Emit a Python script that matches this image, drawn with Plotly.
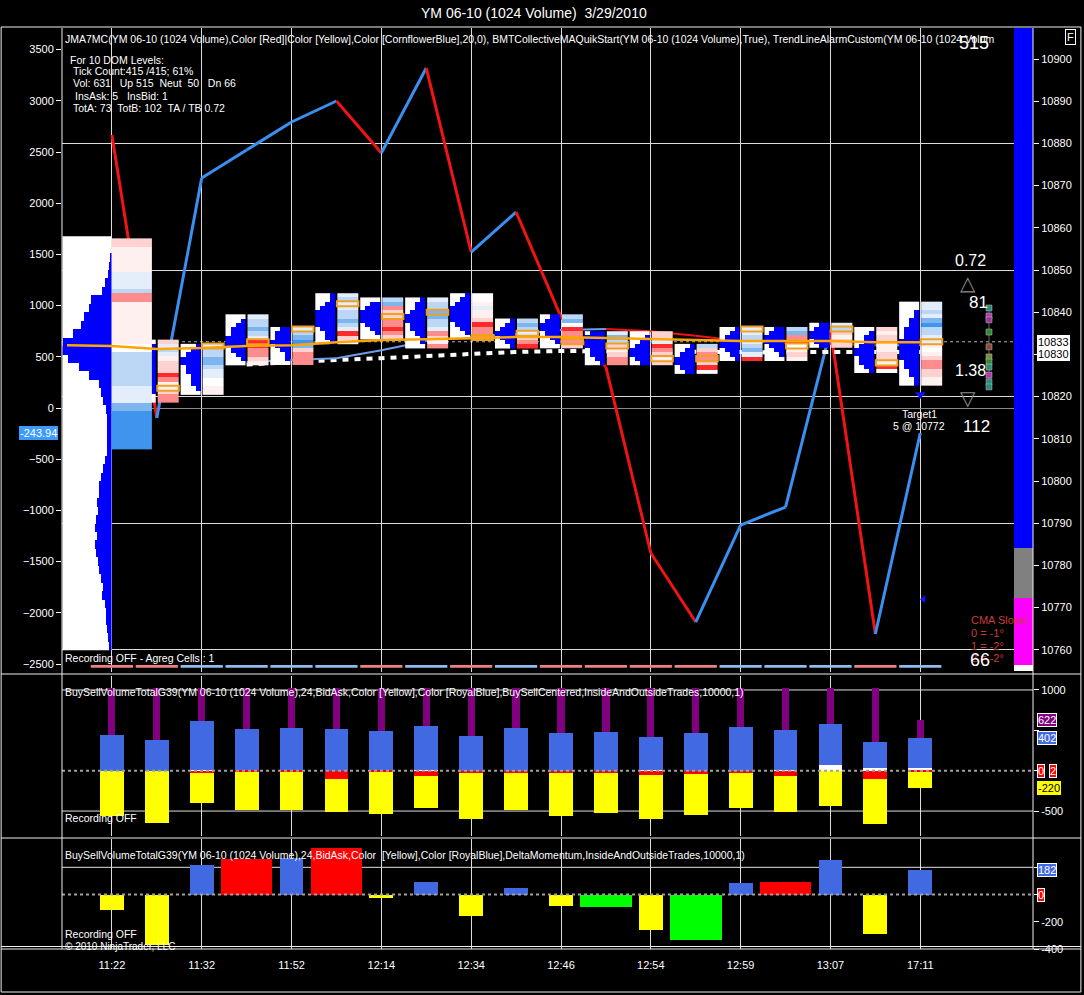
import numpy as np
import plotly.graph_objects as go

FONT = "Liberation Sans, Arial, sans-serif"

# ---------------- shared x (bar index) ----------------
bars = list(range(19))
label_bars = [0, 2, 4, 6, 8, 10, 12, 14, 16, 18]
time_labels = ["11:22", "11:32", "11:52", "12:14", "12:34", "12:46", "12:54", "12:59", "13:07", "17:11"]

# ---------------- main panel: JMA7MC oscillator (left scale) ----------------
jma = [2666, -98, 2246, 2520, 2793, 2998, 2490, 3320, 1523, 1914, 889, 400,
       -1416, -2090, -1143, -967, 762, -2207, -243.94]
jma_last = -243.94

# ---------------- main panel: price series (right scale) ----------------
orange_bars = [-1] + bars
orange_ma = [10832.2, 10832.0, 10831.3, 10831.5, 10832.0, 10832.2, 10832.9, 10833.4, 10833.6, 10833.9,
             10834.1, 10834.1, 10833.9, 10833.6, 10833.4, 10833.2, 10833.2, 10833.2, 10832.9, 10832.9]
cma_bars = list(range(3, 19))
cma = [10828.2, 10828.7, 10829.1, 10831.0, 10833.2, 10834.1, 10834.8, 10835.8, 10836.0, 10835.5,
       10834.4, 10833.2, 10832.7, 10832.5, 10832.2, 10832.2]
dotted_bars = list(range(3, 19))
dotted_ma = [10827.6, 10828.2, 10828.7, 10829.1, 10829.6, 10830.1, 10830.6, 10830.8, 10830.7, 10830.6,
             10830.6, 10830.5, 10830.5, 10830.6, 10830.6, 10830.6]
last_price = 10833
bid_price = 10830
target_price = 10772
signal_price = 10820.5
target_bar = 18

# per-bar footprint blocks (bar 0 is the session profile)
blk_high = [None, 10833, 10832, 10839, 10836, 10844, 10843, 10843, 10844, 10838, 10839, 10835, 10835,
            10832, 10836, 10836, 10837, 10836, 10842]
blk_low = [None, 10819, 10821, 10828, 10828, 10833, 10834, 10832, 10834, 10832, 10832, 10828, 10828,
           10826, 10829, 10829, 10832, 10826, 10823]
blk_codes = [None, "256512224311233", "566776550011", "566765443321", "567872333", "565566765421",
             "6732233432", "566776653213", "00151124333", "6765234", "67043332", "57621233", "22543212",
             "6233240", "55656754", "67340121", "562122", "21221122140", "55657866551012332211"]
blk_profile = [None, "012223443321100", "123443322210", "012334443210", "233432110", "112344443221",
               "0234443210", "122344332110", "12344443210", "1234321", "23443210", "34443321", "01234432",
               "1234432", "12344321", "23443210", "234432", "01223443321", "00112233344444332211"]
blk_poc = [None, 10822, 10832, 10833, 10836, 10842, 10839, 10840, 10834, 10835, 10833, 10832, 10829,
           10829, 10836, 10832, 10836, 10828, 10833]

sess_levels = list(range(10857, 10760, -2))
sess_vol = [0, 0, 1, 2, 3, 6, 9, 20, 22, 27, 30, 38, 48, 49, 43, 32, 22, 12, 10, 8,
            5, 4, 4, 4, 4, 4, 6, 8, 10, 12, 12, 14, 13, 15, 16, 14, 16, 15, 13, 12,
            10, 8, 9, 6, 5, 5, 4, 3, 2]
sess_col_high, sess_col_low = 10857, 10808
sess_col_codes = "22" "111111" "5555" "6" "33" "1111111111" "00" "66666666" "5555" "77" "888888888"

bar_dir = "RRBBBBRBRBRRRRBBBRB"

dom_prices = [10841.0, 10839.1, 10838.2, 10835.3, 10831.8, 10829.4, 10828.2, 10827.0, 10825.1, 10823.5, 10822.3]
dom_colors = ["#2e8b7a", "#b03ab0", "#9a3a9a", "#2e8b2e", "#8b4a3a", "#7a8a3a", "#2e8b2e",
              "#2e8b7a", "#b03ab0", "#2e8b7a", "#2e8b7a"]

up_vol, neut_vol, dn_vol, ins_vol = 515, 50, 66, 6

# ---------------- middle panel: BuySellVolume ----------------
total_vol = [1024, 1024, 1024, 1024, 1024, 1024, 1024, 1024, 1024, 1024,
             1024, 1024, 1024, 1024, 1024, 1024, 1024, 1024, 622]
buy_top = [443, 380, 616, 517, 529, 517, 492, 554, 430, 529, 471, 484, 413, 467, 541, 504, 579, 356, 402]
white_top = [0, 0, 8, 8, 0, 0, 8, 8, 0, 0, 0, 0, 6, 0, 0, 6, 70, 30, 38]
red_vol = [0, 0, 30, 10, 15, 100, 10, 66, 25, 30, 25, 25, 53, 37, 25, 62, 0, 103, 8]
sell_bottom = [-561, -644, -396, -487, -487, -508, -536, -458, -594, -487,
               -558, -528, -594, -545, -458, -508, -433, -657, -220]

# ---------------- bottom panel: Delta momentum ----------------
delta = [-115, -367, 218, 263, 268, 342, -28, 90, -159, 46, -83, -90, -263, -337, 88, 95, 255, -293, 182]
delta_wide = [0, 0, 0, 1, 0, 1, 0, 0, 0, 0, 0, 1, 0, 1, 0, 1, 0, 0, 0]

# ---------------- styling ----------------
RED = "#f01414"
BLUE = "#3a8ff0"
ROYAL = "#4169e1"
CODE_COLORS = ["#ffffff", "#fff0f0", "#ffd2d2", "#ff8c8c", "#ff2a2a",
               "#e4eefb", "#bcd6f5", "#7fb5ef", "#3f95ee", "#0000ff"]
cscale = []
for k, c in enumerate(CODE_COLORS):
    cscale += [[k / 10, c], [(k + 1) / 10, c]]

PLOT_L, PLOT_R, PLOT_T, PLOT_B = 62, 1035, 28, 949


def PX(x):
    return (x - PLOT_L) / (PLOT_R - PLOT_L)


def PY(y):
    return (PLOT_B - y) / (PLOT_B - PLOT_T)


fig = go.Figure()

# --- JMA zigzag (below blocks) ---
for k in range(len(jma) - 1):
    col = RED if jma[k + 1] < jma[k] else BLUE
    fig.add_trace(go.Scatter(x=[bars[k], bars[k + 1]], y=[jma[k], jma[k + 1]], mode="lines",
                             line=dict(color=col, width=3), xaxis="x2", yaxis="y",
                             hoverinfo="skip", showlegend=False))

# --- collective MA lines (price, below blocks) ---
fig.add_trace(go.Scatter(x=dotted_bars, y=dotted_ma, mode="lines",
                         line=dict(color="white", width=4, dash="6px,6px"),
                         xaxis="x2", yaxis="y2", hoverinfo="skip", showlegend=False))
for k in range(len(cma) - 1):
    col = "#6d9ee8" if cma[k + 1] >= cma[k] else RED
    fig.add_trace(go.Scatter(x=[cma_bars[k], cma_bars[k + 1]], y=[cma[k], cma[k + 1]], mode="lines",
                             line=dict(color=col, width=2), xaxis="x2", yaxis="y2",
                             hoverinfo="skip", showlegend=False))


def hm(xe, ye, z):
    return go.Heatmap(x=xe, y=ye, z=z, zmin=0, zmax=10, colorscale=cscale, showscale=False,
                      hoverinfo="skip", xaxis="x2", yaxis="y3")


# --- per-bar footprint blocks ---
for i in range(1, 19):
    levels = list(range(blk_low[i], blk_high[i] + 1))
    ye = [p - 0.5 for p in levels] + [blk_high[i] + 0.5]
    codes = [int(c) for c in blk_codes[i]][::-1]
    fig.add_trace(hm([i + 0.02, i + 0.48], ye, [[c + 0.5] for c in codes]))
    prof = [int(c) for c in blk_profile[i]][::-1]
    xe = [i - 0.47 + k * 0.1125 for k in range(5)]
    z = [[9.5 if k >= 4 - w else 0.5 for k in range(4)] for w in prof]
    fig.add_trace(hm(xe, ye, z))

# --- session profile (bar 0) ---
ncol = 49
xe = list(np.linspace(-1.1, 0, ncol + 1))
asc_levels = sess_levels[::-1]
asc_vol = sess_vol[::-1]
ye = [p - 1 for p in asc_levels] + [asc_levels[-1] + 1]
z = [[9.5 if c >= ncol - v else 0.5 for c in range(ncol)] for v in asc_vol]
fig.add_trace(hm(xe, ye, z))
levels = list(range(sess_col_low, sess_col_high + 1))
ye = [p - 0.5 for p in levels] + [sess_col_high + 0.5]
codes = [int(c) for c in sess_col_codes][::-1]
fig.add_trace(hm([0, 0.885], ye, [[c + 0.5] for c in codes]))

# --- orange MA (above blocks) ---
fig.add_trace(go.Scatter(x=orange_bars, y=orange_ma, mode="lines", line=dict(color="#ffa500", width=2.5),
                         xaxis="x2", yaxis="y3", hoverinfo="skip", showlegend=False))

# --- DOM markers ---
fig.add_trace(go.Scatter(x=[19.53] * len(dom_prices), y=dom_prices, mode="lines+markers",
                         line=dict(color="#806070", width=1),
                         marker=dict(symbol="square", size=6, color=dom_colors,
                                     line=dict(color="#c0c0c0", width=0.5)),
                         xaxis="x2", yaxis="y3", hoverinfo="skip", showlegend=False))

# --- target markers ---
fig.add_trace(go.Scatter(x=[target_bar], y=[signal_price], mode="markers",
                         marker=dict(symbol="triangle-down", size=9, color="#1010ff"),
                         xaxis="x2", yaxis="y3", hoverinfo="skip", showlegend=False))
fig.add_trace(go.Scatter(x=[target_bar + 0.07], y=[target_price], mode="markers",
                         marker=dict(symbol="triangle-left", size=7, color="#1010ff"),
                         xaxis="x2", yaxis="y3", hoverinfo="skip", showlegend=False))

# --- volume side bar ---
seg_vals = [up_vol, neut_vol, dn_vol, ins_vol]
seg_cols = ["#0000ff", "#808080", "#ff00ff", "#ffffff"]
base = 0
for v, c in zip(seg_vals, seg_cols):
    fig.add_trace(go.Bar(x=[0], y=[v], base=[base], width=1, marker=dict(color=c, line=dict(width=0)),
                         xaxis="x4", yaxis="y6", hoverinfo="skip", showlegend=False))
    base += v

# --- middle panel bars ---
fig.add_trace(go.Bar(x=bars, y=[t - b for t, b in zip(total_vol, buy_top)], base=buy_top, width=0.16,
                     marker=dict(color="#800080", line=dict(width=0)), xaxis="x3", yaxis="y4",
                     hoverinfo="skip", showlegend=False))
fig.add_trace(go.Bar(x=bars, y=[b - w for b, w in zip(buy_top, white_top)], base=white_top, width=0.53,
                     marker=dict(color=ROYAL, line=dict(width=0)), xaxis="x3", yaxis="y4",
                     hoverinfo="skip", showlegend=False))
fig.add_trace(go.Bar(x=bars, y=white_top, base=[0] * 19, width=0.53,
                     marker=dict(color="white", line=dict(width=0)), xaxis="x3", yaxis="y4",
                     hoverinfo="skip", showlegend=False))
fig.add_trace(go.Bar(x=bars, y=[s + r for s, r in zip(sell_bottom, red_vol)], base=[-r for r in red_vol],
                     width=0.53, marker=dict(color="#ffff00", line=dict(width=0)), xaxis="x3", yaxis="y4",
                     hoverinfo="skip", showlegend=False))
fig.add_trace(go.Bar(x=bars, y=[-r for r in red_vol], base=[0] * 19, width=0.53,
                     marker=dict(color="#ff0000", line=dict(width=0)), xaxis="x3", yaxis="y4",
                     hoverinfo="skip", showlegend=False))

# --- bottom panel bars ---
d_cols, d_w = [], []
for d, w in zip(delta, delta_wide):
    if w:
        d_cols.append("#ff0000" if d > 0 else "#00ff00")
        d_w.append(1.15)
    else:
        d_cols.append(ROYAL if d > 0 else "#ffff00")
        d_w.append(0.53)
fig.add_trace(go.Bar(x=bars, y=delta, width=d_w, marker=dict(color=d_cols, line=dict(width=0)),
                     xaxis="x", yaxis="y5", hoverinfo="skip", showlegend=False))

# ---------------- shapes ----------------
shapes = []
for i in range(1, 19):
    shapes.append(dict(type="rect", xref="x2", yref="y3", x0=i + 0.01, x1=i + 0.49,
                       y0=blk_poc[i] - 0.6, y1=blk_poc[i] + 0.6,
                       line=dict(color="#f0a020", width=2), fillcolor="rgba(0,0,0,0)", layer="above"))
for i, d in enumerate(bar_dir):
    shapes.append(dict(type="rect", xref="x2", yref="y domain", x0=i - 0.47, x1=i + 0.47,
                       y0=0.0065, y1=0.011, line=dict(width=0),
                       fillcolor="#f08080" if d == "R" else "#8cbcf0", layer="above"))
shapes.append(dict(type="line", xref="x2 domain", yref="y2", x0=0, x1=1, y0=last_price, y1=last_price,
                   line=dict(color="#b0b0b0", width=1, dash="dot"), layer="below"))
for v in [1000, -500]:
    shapes.append(dict(type="line", xref="x3 domain", yref="y4", x0=0, x1=1, y0=v, y1=v,
                       line=dict(color="#e0e0e0", width=1), layer="below"))
shapes.append(dict(type="line", xref="x3 domain", yref="y4", x0=0, x1=1, y0=0, y1=0,
                   line=dict(color="#a0a0a0", width=2, dash="dot"), layer="above"))
shapes.append(dict(type="line", xref="x domain", yref="y5", x0=0, x1=1, y0=200, y1=200,
                   line=dict(color="#e0e0e0", width=1), layer="below"))
shapes.append(dict(type="line", xref="x domain", yref="y5", x0=0, x1=1, y0=0, y1=0,
                   line=dict(color="#a0a0a0", width=2, dash="dot"), layer="above"))
W = dict(color="#f0f0f0", width=1)
for y in [PY(674), PY(838), PY(946.5), 0]:
    shapes.append(dict(type="line", xref="paper", yref="paper", x0=PX(1), x1=PX(1083), y0=y, y1=y, line=W))
for x in [0, 1]:
    shapes.append(dict(type="line", xref="paper", yref="paper", x0=x, x1=x, y0=0, y1=1, line=W))
shapes.append(dict(type="rect", xref="paper", yref="paper", x0=PX(1), x1=PX(1083), y0=PY(992), y1=PY(27),
                   line=W, fillcolor="rgba(0,0,0,0)"))

# ---------------- annotations ----------------
ann = []


def txt(x, y, text, size=10.5, color="white", xanchor="left", **kw):
    d = dict(xref="paper", yref="paper", x=PX(x), y=PY(y), text=text, showarrow=False,
             font=dict(family=FONT, size=size, color=color), xanchor=xanchor, yanchor="middle")
    d.update(kw)
    return d


def tag(yref, y, text, bg, fg="white", border="white", x=1039):
    return dict(xref="paper", yref=yref, x=PX(x), y=y, text=text, showarrow=False, xanchor="left",
                yanchor="middle", bgcolor=bg, bordercolor=border, borderwidth=1, borderpad=0,
                font=dict(family=FONT, size=11, color=fg))


S = "\u00a0"
ann.append(dict(xref="paper", yref="paper", x=PX(535), y=PY(13), text="YM 06-10 (1024 Volume)" + S * 2 + "3/29/2010",
                showarrow=False, font=dict(family=FONT, size=14, color="white"), xanchor="center", yanchor="middle"))
ann.append(txt(63, 39, "JMA7MC(YM 06-10 (1024 Volume),Color [Red]|Color [Yellow],Color [CornflowerBlue],20,0), "
                       "BMTCollectiveMAQuikStart(YM 06-10 (1024 Volume),True), TrendLineAlarmCustom(YM 06-10 (1024 Volum"))
ann.append(txt(68, 60, "For 10 DOM Levels:"))
ann.append(txt(71, 71, "Tick Count:415 /415; 61%"))
ann.append(txt(71, 83, "Vol: 631" + S * 3 + "Up 515" + S * 2 + "Neut" + S * 2 + "50" + S * 3 + "Dn 66"))
ann.append(txt(73, 96, "InsAsk: 5" + S * 3 + "InsBid: 1"))
ann.append(txt(71, 108, "TotA: 73" + S * 2 + "TotB: 102" + S * 2 + "TA / TB 0.72"))
ann.append(txt(63, 658, "Recording OFF - Agreg Cells : 1"))

ann.append(txt(976, 43, "515", size=18, xanchor="center"))
ann.append(txt(972, 260, "0.72", size=16, xanchor="center"))
ann.append(txt(970, 283, "\u25b3", size=20, color="#8a8a8a", xanchor="center"))
ann.append(txt(980, 302, "81", size=17, xanchor="center"))
ann.append(txt(972, 370, "1.38", size=16, xanchor="center"))
ann.append(txt(970, 398, "\u25bd", size=20, color="#8a8a8a", xanchor="center"))
ann.append(txt(978, 426, "112", size=17, xanchor="center"))
ann.append(txt(921, 414, "Target1", size=10.5, xanchor="center"))
ann.append(txt(921, 426, "5 @ 10772", size=10.5, xanchor="center"))
ann.append(txt(971, 620, "CMA Slope:", size=11, color="#c83c3c"))
ann.append(txt(971, 633, "0 = -1\u00b0", size=11, color="#c83c3c"))
ann.append(txt(971, 646, "1 = -2\u00b0", size=11, color="#c83c3c"))
ann.append(txt(971, 658, "2 = -2\u00b0", size=11, color="#c83c3c"))
ann.append(txt(982, 660, "66", size=18, xanchor="center"))
ann.append(txt(1073, 37, "F", size=11, xanchor="center", bordercolor="white", borderwidth=1, borderpad=1))

ann.append(tag("y2", last_price, "10833", "white", fg="black"))
ann.append(tag("y2", bid_price, "10830", "white", fg="black"))
ann.append(dict(xref="paper", yref="y", x=PX(58), y=jma_last, text=f"{jma_last:.2f}", showarrow=False,
                xanchor="right", yanchor="middle", bgcolor="#3d9bff", bordercolor="#3d9bff", borderwidth=1,
                borderpad=0, font=dict(family=FONT, size=11, color="white")))

ann.append(txt(63, 692, "BuySellVolumeTotalG39(YM 06-10 (1024 Volume),24,BidAsk,Color [Yellow],Color [RoyalBlue],"
                        "BuySellCentered,InsideAndOutsideTrades,10000,1)"))
ann.append(txt(63, 818, "Recording OFF"))
ann.append(tag("y4", total_vol[-1], str(total_vol[-1]), "#800080"))
ann.append(tag("y4", buy_top[-1], str(buy_top[-1]), ROYAL))
ann.append(tag("y4", 0, "0", "#ff0000"))
ann.append(tag("y4", 0, "2", "#ff0000", x=1051))
ann.append(tag("y4", sell_bottom[-1], str(sell_bottom[-1]), "#ffff00", fg="black", border="#ffff00"))

ann.append(txt(63, 855, "BuySellVolumeTotalG39(YM 06-10 (1024 Volume),24,BidAsk,Color" + S * 2 + "[Yellow],Color [RoyalBlue],"
                        "DeltaMomentum,InsideAndOutsideTrades,10000,1)"))
ann.append(txt(63, 934, "Recording OFF"))
ann.append(txt(63, 946, "\u00a9 2010 NinjaTrader, LLC", size=10))
ann.append(tag("y5", delta[-1], str(delta[-1]), ROYAL))
ann.append(tag("y5", 0, "0", "#ff0000"))

# ---------------- layout ----------------
XR = [-1.111, 20.51]
GRID = "#dcdcdc"
TF = dict(family=FONT, size=11, color="white")
main_dom = [PY(672), 1.0]
mid_dom = [PY(836), PY(676)]
bot_dom = [0, PY(839)]
price_ticks = list(range(10760, 10901, 10))

fig.update_layout(
    width=1084, height=995, paper_bgcolor="black", plot_bgcolor="black",
    margin=dict(l=PLOT_L, r=1084 - PLOT_R, t=PLOT_T, b=995 - PLOT_B),
    barmode="overlay", bargap=0, showlegend=False, font=TF,
    xaxis=dict(domain=[0, 1], anchor="y5", range=XR, tickmode="array", tickvals=label_bars,
               ticktext=time_labels, showgrid=True, gridcolor=GRID, gridwidth=1, zeroline=False,
               ticks="outside", ticklen=6, tickcolor="black", tickfont=TF, showline=False),
    xaxis2=dict(domain=[0, 1], anchor="y", matches="x", range=XR, tickmode="array", tickvals=label_bars,
                showticklabels=False, showgrid=True, gridcolor=GRID, zeroline=False, ticks=""),
    xaxis3=dict(domain=[0, 1], anchor="y4", matches="x", range=XR, tickmode="array", tickvals=label_bars,
                showticklabels=False, showgrid=True, gridcolor=GRID, zeroline=False, ticks=""),
    xaxis4=dict(domain=[PX(1016), 1], anchor="y6", range=[-0.5, 0.5], visible=False),
    yaxis=dict(domain=main_dom, anchor="x2", range=[-2578, 3711], tick0=0, dtick=500, side="left",
               ticks="outside", ticklen=5, tickcolor="white", tickfont=TF, showgrid=False,
               zeroline=True, zerolinecolor="#8a8a8a", zerolinewidth=1),
    yaxis2=dict(overlaying="y", anchor="x2", side="right", range=[10754.74, 10907.35], tickmode="array",
                tickvals=price_ticks,
                ticktext=["" if p == bid_price else str(p) for p in price_ticks],
                ticks="outside", ticklen=5, tickcolor="white", tickfont=TF, showgrid=False, zeroline=False),
    yaxis3=dict(overlaying="y", anchor="x2", side="right", range=[10754.74, 10907.35], tickmode="array",
                tickvals=[10760, 10790, 10820, 10850, 10880], showticklabels=False, ticks="",
                showgrid=True, gridcolor=GRID, zeroline=False),
    yaxis4=dict(domain=mid_dom, anchor="x3", side="right", range=[-809, 1173], tickmode="array",
                tickvals=[1000, 500, 0, -500], ticktext=["1000", "", "", "-500"],
                ticks="outside", ticklen=5, tickcolor="white", tickfont=TF,
                showgrid=False, zeroline=False),
    yaxis5=dict(domain=bot_dom, anchor="x", side="right", range=[-400, 408], tickmode="array",
                tickvals=[200, 0, -200, -400], ticktext=["", "", "-200", "-400"],
                ticks="outside", ticklen=5, tickcolor="white", tickfont=TF,
                showgrid=False, zeroline=False),
    yaxis6=dict(domain=main_dom, anchor="x4", range=[638, 0], visible=False),
    shapes=shapes, annotations=ann,
)

fig.write_html("out.html", config={"displayModeBar": False},
               post_script="document.body.style.margin='0';document.body.style.background='black';")
